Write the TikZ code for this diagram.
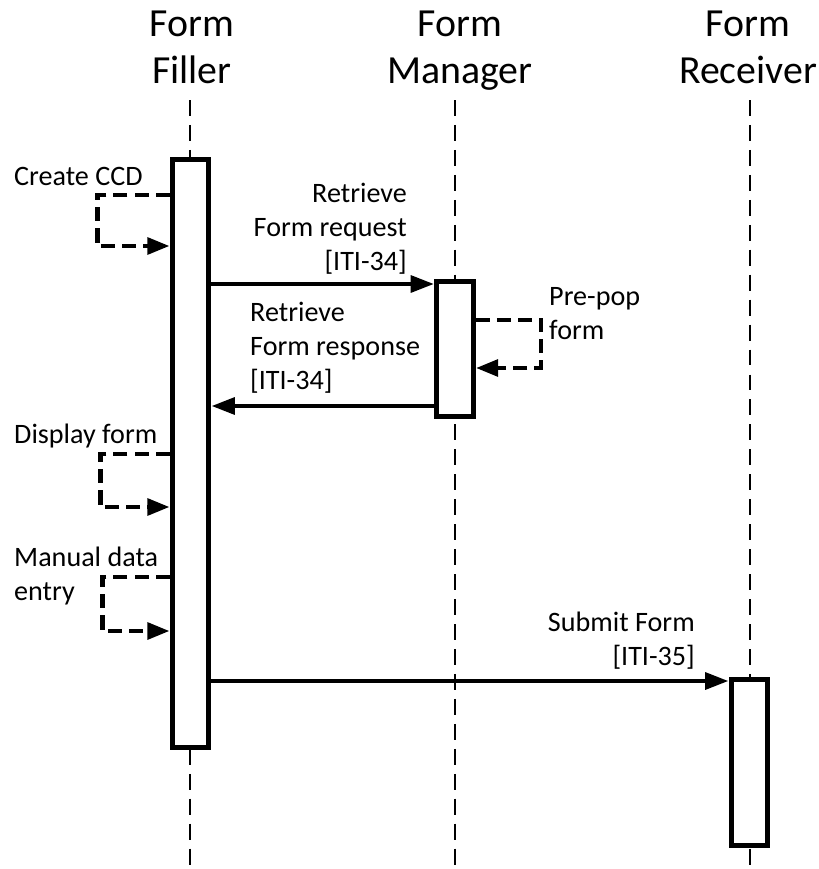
\documentclass[tikz,border=0pt]{standalone}
\usepackage{fontspec}
\setmainfont{Carlito}
\usetikzlibrary{arrows.meta}

\begin{document}
\begin{tikzpicture}[x=.03cm,y=-.03cm,
  head/.style={font=\fontsize{34}{40}\selectfont,align=center,inner sep=0pt,anchor=base},
  lbl/.style={font=\fontsize{24}{29}\selectfont,inner sep=0pt},
  life/.style={line width=2pt,dash pattern=on 13.6pt off 7.7pt},
  act/.style={draw,fill=white,line width=4.3pt,minimum width=1.1cm,anchor=north,inner sep=0pt},
  msg/.style={line width=4pt,-{Triangle[length=20pt,width=14pt]}},
  selfmsg/.style={line width=4pt,dash pattern=on 12pt off 6pt,-{Triangle[length=19pt,width=14pt]}}]
  \useasboundingbox (0,0) rectangle (819,869);
  % lifelines and heads
  \foreach \x/\nm/\txt in {192/fil/{Form\\Filler},460/man/{Form\\Manager},748/rec/{Form\\Receiver}} {
    \node[head] (\nm) at (\x,83) {\txt};
  }
  \foreach \x in {190,455,750}
    \draw[life] (\x,100) -- (\x,869);
  % activation boxes
  \node[act,minimum height=17.64cm] (filbox) at (190.5,157) {};
  \node[act,minimum height=4.05cm] (manbox) at (455,279) {};
  \node[act,minimum height=4.98cm] (recbox) at (749.5,677) {};
  % messages
  \draw[msg] (filbox.east |- 0,284) -- (manbox.west |- 0,284);
  \draw[msg] (manbox.west |- 0,406) -- (filbox.east |- 0,406);
  \draw[msg] (filbox.east |- 0,681) -- (recbox.west |- 0,681);
  % self calls
  \draw[selfmsg] (filbox.west |- 0,195) -- ++(-72,0) |- (filbox.west |- 0,246);
  \draw[selfmsg] (filbox.west |- 0,454) -- ++(-69,0) |- (filbox.west |- 0,507);
  \draw[selfmsg] (filbox.west |- 0,577) -- ++(-67,0) |- (filbox.west |- 0,631);
  \draw[selfmsg] (manbox.east |- 0,320) -- ++(65,0) |- (manbox.east |- 0,368);
  % labels (base = last line)
  \node[lbl,anchor=base west] (ccd) at (14,185) {Create CCD};
  \node[lbl,anchor=base east,align=right] (req) at (407,270) {Retrieve\\Form request\\{[ITI-34]}};
  \node[lbl,anchor=base west,align=left] (resp) at (250,389) {Retrieve\\Form response\\{[ITI-34]}};
  \node[lbl,anchor=base west,align=left] (prepop) at (549,339) {Pre-pop\\form};
  \node[lbl,anchor=base west] (disp) at (14,443) {Display form};
  \node[lbl,anchor=base west,align=left] (manual) at (14,600) {Manual data\\entry};
  \node[lbl,anchor=base east,align=right] (submit) at (695,665) {Submit Form\\{[ITI-35]}};
\end{tikzpicture}
\end{document}
